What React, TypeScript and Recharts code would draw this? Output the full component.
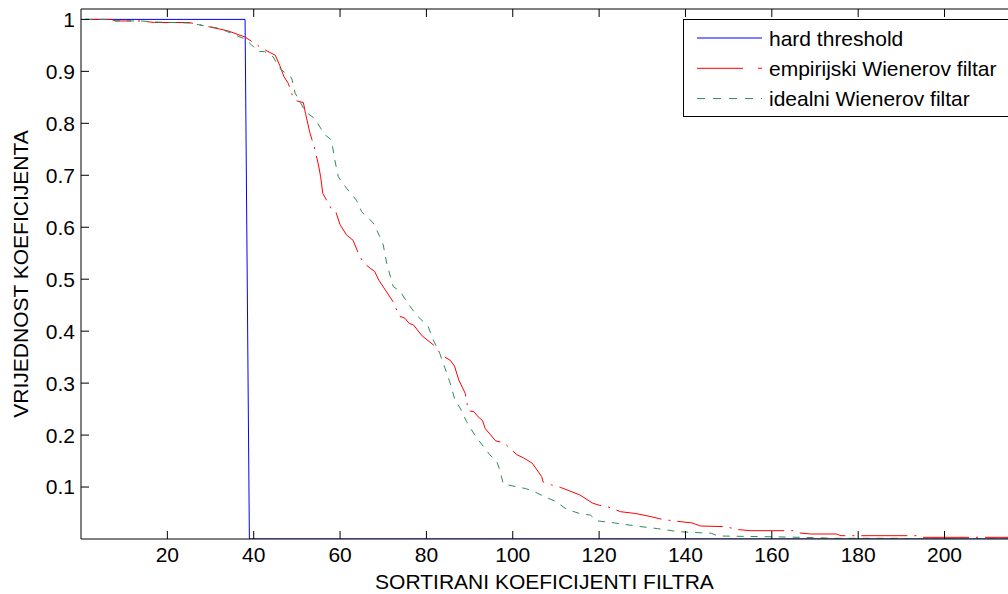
import React from "react"
import { LineChart, Line, XAxis, YAxis, Legend, Label } from "recharts"

const FONT = '"Liberation Sans", Arial, sans-serif'

const xTicks = [20, 40, 60, 80, 100, 120, 140, 160, 180, 200]
const yTicks = [0.1, 0.2, 0.3, 0.4, 0.5, 0.6, 0.7, 0.8, 0.9, 1]

// hard threshold
const hardX = [1, 38, 39, 216]
const hardY = [1, 1, 0, 0]

// empirijski Wienerov filtar
const empX = [
  1, 7, 8, 14, 17, 25, 29, 34, 38, 42, 45, 46, 47, 48, 49, 50, 51.5, 52, 53, 54, 55, 55.5, 56, 57.5, 58, 59,
  60, 61.5, 63, 64.5, 65.5, 67, 68, 69, 70.5, 72.5, 73.7, 75, 76, 77, 79, 82, 83.5, 85.5, 86.5, 87.5, 89,
  89.7, 91, 92, 93, 93.6, 96, 98, 99.5, 101, 102.5, 104.5, 106.7, 107, 109, 111, 113, 115.5, 118.5, 120,
  122, 125, 128.5, 132, 134.5, 137.5, 141.5, 143.5, 149.5, 151.5, 155, 165, 166, 169, 175, 176, 194, 195, 216,
]
const empY = [
  1, 1, 0.997, 0.997, 0.994, 0.994, 0.987, 0.978, 0.966, 0.944, 0.931, 0.912, 0.89, 0.877, 0.853, 0.843,
  0.84, 0.819, 0.782, 0.755, 0.72, 0.697, 0.665, 0.643, 0.635, 0.63, 0.605, 0.585, 0.575, 0.545, 0.531,
  0.521, 0.515, 0.498, 0.479, 0.454, 0.429, 0.425, 0.415, 0.412, 0.391, 0.371, 0.354, 0.344, 0.333, 0.306,
  0.28, 0.247, 0.245, 0.235, 0.228, 0.213, 0.189, 0.185, 0.173, 0.162, 0.156, 0.146, 0.12, 0.11, 0.104,
  0.0995, 0.093, 0.085, 0.069, 0.065, 0.062, 0.0525, 0.049, 0.043, 0.038, 0.0346, 0.031, 0.025, 0.0237,
  0.0187, 0.016, 0.016, 0.012, 0.0096, 0.0096, 0.0064, 0.0064, 0.0032, 0.0032,
]

// idealni Wienerov filtar
const idealX = [
  1, 7, 8, 14, 17, 25, 29, 32, 38, 39.5, 41, 42.5, 44.5, 46, 47, 48.8, 49.6, 52, 54, 56.5, 58, 58.8, 59.6,
  61.5, 63.8, 65, 67.7, 69.2, 70, 70.8, 72.3, 74, 75.4, 77.7, 80.4, 81.6, 83.1, 84.3, 85.5, 86.6, 87.8,
  89.3, 91.2, 93.2, 94.7, 96.3, 97, 97.8, 100, 103, 105, 107, 110, 112.5, 115.5, 118, 119.5, 123.5, 128.5,
  133.5, 138.5, 146, 147.5, 158, 167, 175, 190, 192, 216,
]
const idealY = [
  1, 1, 0.997, 0.997, 0.995, 0.993, 0.987, 0.983, 0.962, 0.951, 0.938, 0.938, 0.928, 0.906, 0.899, 0.887,
  0.858, 0.822, 0.81, 0.778, 0.768, 0.729, 0.697, 0.675, 0.652, 0.63, 0.608, 0.582, 0.566, 0.531, 0.486,
  0.476, 0.457, 0.431, 0.409, 0.383, 0.357, 0.329, 0.3, 0.268, 0.252, 0.226, 0.2, 0.178, 0.162, 0.149,
  0.133, 0.106, 0.102, 0.097, 0.091, 0.083, 0.072, 0.057, 0.049, 0.046, 0.035, 0.031, 0.025, 0.02, 0.014,
  0.011, 0.0058, 0.0045, 0.0032, 0.0013, 0.0013, 0, 0,
]

const toPoints = (xs: number[], ys: number[]) => xs.map((x, i) => ({ x, y: ys[i] }))

const series = [
  { name: "hard threshold", color: "#0000ff", dash: undefined, legendDash: undefined, data: toPoints(hardX, hardY) },
  { name: "empirijski Wienerov filtar", color: "#ff0000", dash: "46 7 2 7", legendDash: "46 15 4 100", data: toPoints(empX, empY) },
  { name: "idealni Wienerov filtar", color: "#2e8b57", dash: "7 7", legendDash: "8 8", data: toPoints(idealX, idealY) },
]

const renderLegend = () => (
  <div style={{ width: 340, height: 98, border: "1px solid #000", background: "#fff", boxSizing: "border-box" }}>
    <svg width={340} height={96} style={{ display: "block" }}>
      {series.map((s, i) => {
        const cy = 18 + 30.3 * i
        return (
          <g key={s.name}>
            <line x1={13} x2={78} y1={cy} y2={cy} stroke={s.color} strokeWidth={1} strokeDasharray={s.legendDash} />
            <text x={85} y={cy} dominantBaseline="central" fontSize={21} fontFamily={FONT} fill="#000">
              {s.name}
            </text>
          </g>
        )
      })}
    </svg>
  </div>
)

export default function App() {
  const tickStyle = { fill: "#000", fontSize: 21, fontFamily: FONT }
  return (
    <div style={{ position: "absolute", left: 0, top: 0, width: 1008, height: 594, background: "#fff", fontFamily: FONT }}>
      <LineChart width={1008} height={594} margin={{ top: 8, right: 0, bottom: 15, left: 0 }}>
        <XAxis
          xAxisId="bottom"
          type="number"
          dataKey="x"
          domain={[0, 214.7]}
          allowDataOverflow
          ticks={xTicks}
          height={40}
          tickSize={-8}
          tickMargin={16}
          tick={tickStyle}
          axisLine={{ stroke: "#000", strokeWidth: 1 }}
          tickLine={{ stroke: "#000" }}
        >
          <Label value="SORTIRANI KOEFICIJENTI FILTRA" position="bottom" offset={-5} style={{ fill: "#000", fontSize: 21, fontFamily: FONT }} />
        </XAxis>
        <XAxis
          xAxisId="top"
          orientation="top"
          type="number"
          dataKey="x"
          domain={[0, 214.7]}
          allowDataOverflow
          ticks={xTicks}
          height={1}
          tickSize={-8}
          tick={() => <g />}
          axisLine={{ stroke: "#000", strokeWidth: 1 }}
          tickLine={{ stroke: "#000" }}
        />
        <YAxis
          type="number"
          domain={[0, 1.02]}
          allowDataOverflow
          ticks={yTicks}
          width={81}
          tickSize={-8}
          tickMargin={14}
          tick={tickStyle}
          tickFormatter={(v: number) => String(v)}
          axisLine={{ stroke: "#000", strokeWidth: 1 }}
          tickLine={{ stroke: "#000" }}
        >
          <Label
            value="VRIJEDNOST KOEFICIJENTA"
            angle={-90}
            position="insideLeft"
            offset={21}
            style={{ fill: "#000", fontSize: 21, fontFamily: FONT, textAnchor: "middle" }}
          />
        </YAxis>
        <Legend
          content={renderLegend}
          layout="horizontal"
          verticalAlign="middle"
          align="center"
          wrapperStyle={{ position: "absolute", left: 683, top: 19, width: 340, height: 98 }}
        />
        {series.map((s) => (
          <Line
            key={s.name}
            xAxisId="bottom"
            data={s.data}
            dataKey="y"
            name={s.name}
            type="linear"
            stroke={s.color}
            strokeWidth={1}
            strokeDasharray={s.dash}
            dot={false}
            activeDot={false}
            isAnimationActive={false}
          />
        ))}
      </LineChart>
    </div>
  )
}
